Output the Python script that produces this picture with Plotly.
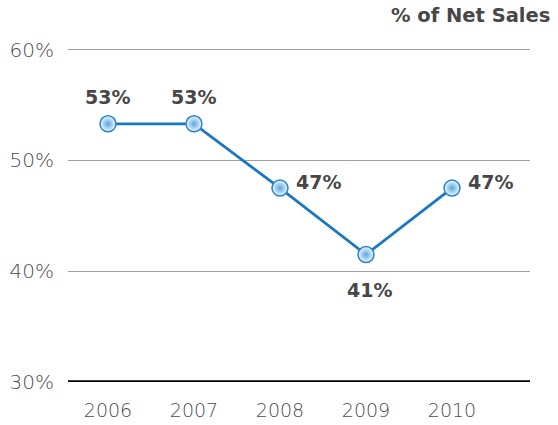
import plotly.graph_objects as go

years = ["2006", "2007", "2008", "2009", "2010"]
values = [53.3, 53.3, 47.5, 41.5, 47.5]
labels = ["53%", "53%", "47%", "41%", "47%"]
label_pos = ["top", "top", "right", "bottom", "right"]
y_ticks = [30, 40, 50, 60]
y_tick_text = ["30%", "40%", "50%", "60%"]

FONT = "'DejaVu Sans', sans-serif"
shift = {"top": dict(xshift=0, yshift=27, xanchor="center", yanchor="middle"),
         "right": dict(xshift=14, yshift=6, xanchor="left", yanchor="middle"),
         "bottom": dict(xshift=3, yshift=-35, xanchor="center", yanchor="middle")}

fig = go.Figure()
fig.add_trace(go.Scatter(
    x=years, y=values, mode="lines+markers",
    line=dict(color="#1a78c2", width=2.8),
    marker=dict(size=16, color="#f0f8fe",
                gradient=dict(type="radial", color="#5aa7e0"),
                line=dict(color="#2a84c8", width=1.5)),
    cliponaxis=False,
    hoverinfo="skip",
))

annotations = []
for i, (y, t, p) in enumerate(zip(values, labels, label_pos)):
    annotations.append(dict(x=i, y=y, xref="x", yref="y", text="<b>" + t + "</b>",
                            showarrow=False,
                            font=dict(family=FONT, size=19, color="#474747"),
                            **shift[p]))
annotations.append(dict(text="<b>% of Net Sales</b>", xref="paper", yref="paper",
                        x=1.048, y=1.084, xanchor="right", yanchor="middle",
                        showarrow=False,
                        font=dict(family=FONT, size=19.5, color="#474747")))

fig.update_layout(
    width=558, height=425,
    margin=dict(l=68, r=28, t=44.4, b=43),
    paper_bgcolor="white", plot_bgcolor="white",
    showlegend=False,
    font=dict(family=FONT, color="#4d4d4d"),
    xaxis=dict(type="category", range=[-0.465, 4.907], showgrid=False,
               showline=False, zeroline=False, ticks="", automargin=False,
               tickfont=dict(family=FONT, size=19, color="#4d4d4d", weight=200),
               ticklabelstandoff=15),
    yaxis=dict(range=[30, 60.5], tickvals=y_ticks, ticktext=y_tick_text,
               showgrid=True, gridcolor="#a0a0a0", gridwidth=1, automargin=False,
               zeroline=False, showline=False, ticks="",
               tickfont=dict(family=FONT, size=20, color="#4d4d4d", weight=200),
               ticklabelstandoff=13),
    shapes=[dict(type="line", xref="paper", yref="y", x0=0, x1=1, y0=30, y1=30,
                 line=dict(color="black", width=3.5))],
    annotations=annotations,
)

fig.write_html("out.html", config={"displayModeBar": False},
               post_script="document.body.style.margin='0';")
